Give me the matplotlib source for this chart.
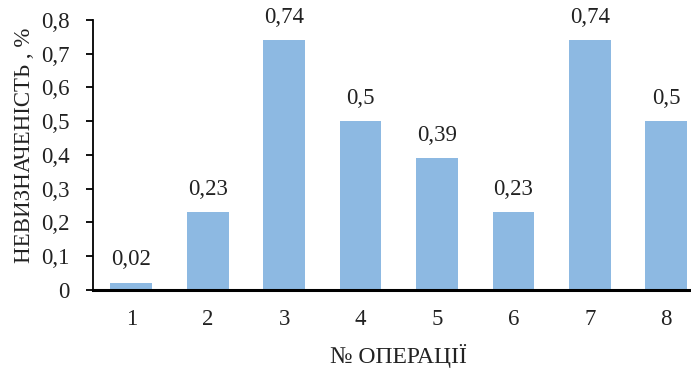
import matplotlib
matplotlib.use("Agg")
import matplotlib.pyplot as plt
from matplotlib.ticker import FuncFormatter

categories = ["1", "2", "3", "4", "5", "6", "7", "8"]
values = [0.02, 0.23, 0.74, 0.5, 0.39, 0.23, 0.74, 0.5]
value_labels = ["0,02", "0,23", "0,74", "0,5", "0,39", "0,23", "0,74", "0,5"]

plt.rcParams['font.family'] = ['Liberation Serif', 'DejaVu Serif']

fig = plt.figure(figsize=(6.91, 3.69), dpi=100)
ax = fig.add_axes([0.1346, 0.2154, 0.885, 0.730])

x = list(range(len(categories)))
ax.bar(x, values, width=0.545, color='#8DB9E2', zorder=2)
for xi, v, lab in zip(x, values, value_labels):
    ax.annotate(lab, (xi, v), xytext=(0, 9), textcoords='offset points',
                ha='center', va='bottom', fontsize=16.5, color='#222222')

ax.set_xlim(-0.5, 7.5)
ax.set_ylim(0, 0.8)
ax.set_xticks(x)
ax.set_xticklabels(categories)
ax.set_yticks([i / 10 for i in range(9)])
ax.yaxis.set_major_formatter(FuncFormatter(lambda v, p: "0" if abs(v) < 1e-9 else f"{v:.1f}".replace('.', ',')))
ax.tick_params(axis='x', length=0, pad=14, labelsize=16.5, labelcolor='#222222')
ax.tick_params(axis='y', length=5, width=1.3, direction='out', labelsize=16.5, pad=12, labelcolor='#222222')
for s in ['top', 'right']:
    ax.spines[s].set_visible(False)
ax.spines['left'].set_linewidth(1.3)
ax.spines['bottom'].set_linewidth(2.2)
ax.set_xlabel("№ ОПЕРАЦІЇ", fontsize=17, labelpad=10, color='#222222')
ax.set_ylabel("НЕВИЗНАЧЕНІСТЬ , %", fontsize=16.5, labelpad=4, color='#222222')
ax.xaxis.label.set_position((0.499, 0))
ax.yaxis.label.set_position((0, 0.536))

fig.savefig("out.png", dpi=100)
